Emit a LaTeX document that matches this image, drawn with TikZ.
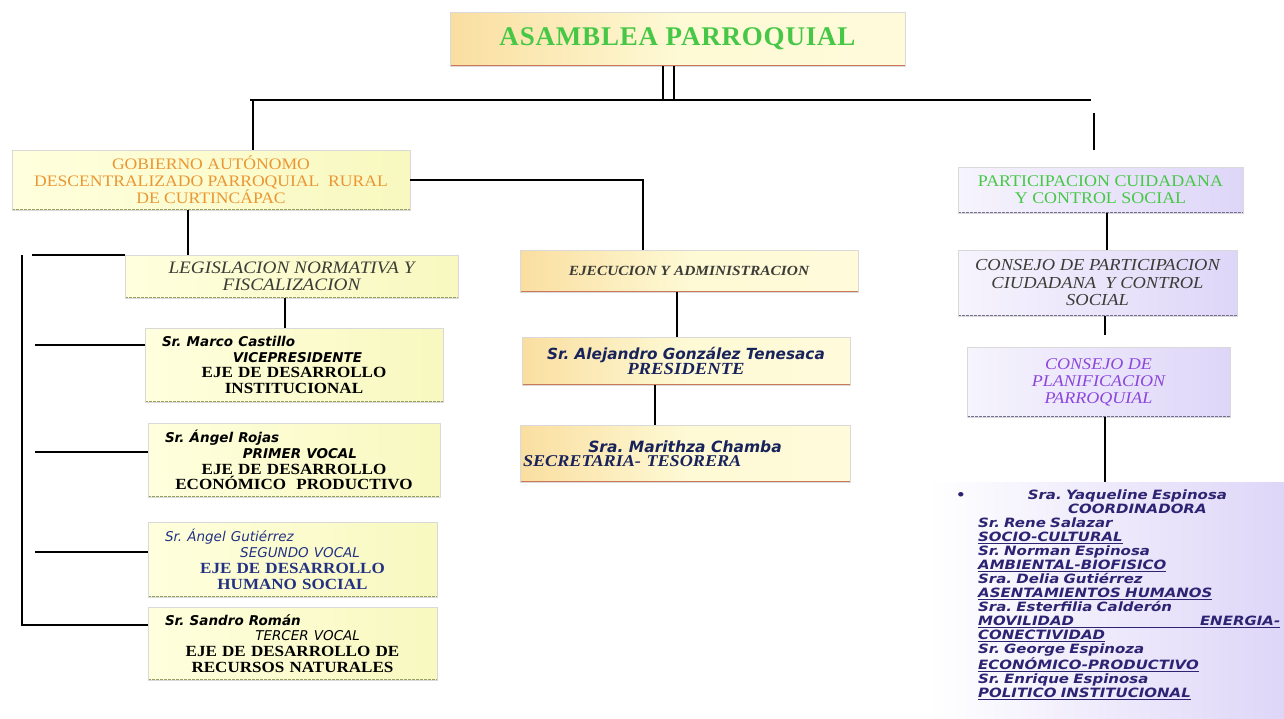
\documentclass[tikz,border=0pt]{standalone}
\usepackage{fontspec}
\setmainfont{Liberation Serif}
\newfontfamily\serw{Liberation Serif}[FakeStretch=1.1]
\newfontfamily\namef{DejaVu Sans}
\newfontfamily\listf{DejaVu Sans}[FakeStretch=1.17]
\usetikzlibrary{calc}
\definecolor{grn}{RGB}{70,200,70}
\definecolor{orng}{RGB}{235,150,50}
\definecolor{dgray}{RGB}{60,60,55}
\definecolor{purp}{RGB}{140,70,220}
\definecolor{navy}{RGB}{35,50,130}
\definecolor{lnavy}{RGB}{45,35,115}
\definecolor{ylA}{RGB}{255,255,222}
\definecolor{ylB}{RGB}{248,248,192}
\definecolor{orA}{RGB}{250,222,160}
\definecolor{orB}{RGB}{255,250,218}
\definecolor{lvA}{RGB}{246,244,253}
\definecolor{lvB}{RGB}{222,214,248}
\definecolor{edgeY}{RGB}{150,160,100}
\definecolor{edgeO}{RGB}{205,120,90}
\definecolor{edgeL}{RGB}{120,110,145}
\tikzset{
  base/.style={inner sep=0pt, outer sep=0pt, draw=gray!30, line width=0.4pt, align=center},
  ybox/.style={base, left color=ylA, right color=ylB,
    path picture={\draw[edgeY, line width=1.3pt, dash pattern=on 3pt off 1pt]
      (path picture bounding box.south west) -- (path picture bounding box.south east);}},
  obox/.style={base, left color=orA, right color=orB, middle color=orB!80!ylB,
    path picture={\draw[edgeO, line width=1.5pt]
      (path picture bounding box.south west) -- (path picture bounding box.south east);}},
  lbox/.style={base, left color=lvA, right color=lvB,
    path picture={\draw[edgeL, line width=1.3pt, dash pattern=on 3pt off 1pt]
      (path picture bounding box.south west) -- (path picture bounding box.south east);}},
  conn/.style={draw=black, line width=1.3pt},
  memb/.style={ybox, text width=#1, font=\serw\fontsize{15.5}{15.8}\selectfont},
}
\newcommand{\nmf}{\namef\bfseries\itshape\fontsize{13.5}{15.8}\selectfont}
\frenchspacing
\begin{document}
\begin{tikzpicture}[x=1pt,y=-1pt]
\useasboundingbox[fill=white] (0,0) rectangle (1284,718);

% top
\node[obox, minimum width=455pt, minimum height=54pt,
  font=\fontsize{27}{30}\selectfont\bfseries, text=grn] (asm) at (677.5,39)
  {\addfontfeatures{LetterSpace=3}ASAMBLEA PARROQUIAL};

% left column
\node[ybox, font=\serw\fontsize{16}{17}\selectfont, text=orng, minimum width=398pt, minimum height=60pt] (gad) at (211,180)
  {GOBIERNO AUTÓNOMO\\DESCENTRALIZADO PARROQUIAL~~RURAL\\DE CURTINCÁPAC};
\node[ybox, font=\serw\fontsize{17.5}{17}\selectfont\itshape, text=dgray, minimum width=333pt, minimum height=43pt] (leg) at (291.5,276.5)
  {LEGISLACION NORMATIVA Y\\FISCALIZACION};

\node[memb=278pt, minimum width=298pt, minimum height=74pt] (marco) at (294,365)
  {\makebox[\linewidth][l]{\hspace{7pt}\nmf Sr. Marco Castillo}\\
   \makebox[\linewidth][r]{\nmf VICEPRESIDENTE\hspace{71pt}}\\
   \bfseries EJE DE DESARROLLO\\ \bfseries INSTITUCIONAL};
\node[memb=272pt, minimum width=292pt, minimum height=74pt] (rojas) at (294,460)
  {\makebox[\linewidth][l]{\hspace{7pt}\nmf Sr. Ángel Rojas}\\
   \makebox[\linewidth][r]{\nmf PRIMER VOCAL\hspace{73pt}}\\
   \bfseries EJE DE DESARROLLO\\ \bfseries ECONÓMICO~ PRODUCTIVO};
\node[memb=269pt, minimum width=289pt, minimum height=75pt, text=navy] (gut) at (292.5,559.5)
  {\makebox[\linewidth][l]{\hspace{7pt}\nmf\mdseries Sr. Ángel Gutiérrez}\\
   \makebox[\linewidth][r]{\nmf\mdseries SEGUNDO VOCAL\hspace{67pt}}\\
   \bfseries EJE DE DESARROLLO\\ \bfseries HUMANO SOCIAL};
\node[memb=269pt, minimum width=289pt, minimum height=73pt] (roman) at (292.5,643.5)
  {\makebox[\linewidth][l]{\hspace{7pt}\nmf Sr. Sandro Román}\\
   \makebox[\linewidth][r]{\nmf\mdseries TERCER VOCAL\hspace{67pt}}\\
   \bfseries EJE DE DESARROLLO DE\\ \bfseries RECURSOS NATURALES};

% middle column
\node[obox, minimum width=338pt, minimum height=42pt,
  font=\serw\fontsize{14}{15}\selectfont\bfseries\itshape, text=dgray] (ejec) at (689,271)
  {EJECUCION Y ADMINISTRACION};
\node[obox, minimum width=328pt, minimum height=48pt, text=navy!70!black] (pres) at (686,361)
  {{\namef\bfseries\itshape\fontsize{15.3}{17}\selectfont Sr. Alejandro González Tenesaca}\\
   {\serw\bfseries\itshape\fontsize{17}{17}\selectfont PRESIDENTE}};
\node[obox, minimum width=330pt, minimum height=57pt, text width=324pt, text=navy!70!black,
  font=\serw\fontsize{16.5}{14.5}\selectfont] (chamba) at (685,453.5)
  {{\namef\bfseries\itshape\fontsize{15.5}{14.5}\selectfont Sra. Marithza Chamba}\\
   \makebox[\linewidth][l]{\bfseries\itshape SECRETARIA- TESORERA}\\[26pt]};

% right column
\node[lbox, font=\serw\fontsize{16.3}{17}\selectfont, text=grn, minimum width=285pt, minimum height=46pt] (part) at (1100.5,190)
  {PARTICIPACION CUIDADANA\\Y CONTROL SOCIAL};
\node[lbox, font=\serw\fontsize{16.8}{17.5}\selectfont\itshape, text=dgray, minimum width=279pt, minimum height=66pt] (cpart) at (1097.5,283)
  {CONSEJO DE PARTICIPACION\\CIUDADANA~ Y CONTROL\\SOCIAL};
\node[lbox, font=\serw\fontsize{16.4}{17}\selectfont\itshape, text=purp, minimum width=263pt, minimum height=70pt] (cplan) at (1098.5,382)
  {CONSEJO DE\\PLANIFICACION\\PARROQUIAL};
\node[base, draw=none, left color=white, right color=lvB, minimum width=356pt, minimum height=236pt] (list) at (1106,600) {};
\node[anchor=north west, inner sep=0pt, text width=302pt, align=left, text=lnavy,
  font=\listf\bfseries\itshape\fontsize{12.8}{14}\selectfont] (listtxt) at (978,490)
  {\makebox[\linewidth][l]{\hspace*{-22pt}•\hspace{62pt}Sra. Yaqueline Espinosa}\\
   \makebox[\linewidth][l]{\hspace*{90pt}COORDINADORA}\\
   Sr. Rene Salazar\\
   \underline{SOCIO-CULTURAL}\\
   Sr. Norman Espinosa\\
   \underline{AMBIENTAL-BIOFISICO}\\
   Sra. Delia Gutiérrez\\
   \underline{ASENTAMIENTOS HUMANOS}\\
   Sra. Esterfilia Calderón\\
   \underline{\makebox[\linewidth][l]{MOVILIDAD\hfill ENERGIA-}}\\
   \underline{CONECTIVIDAD}\\
   Sr. George Espinoza\\
   \underline{ECONÓMICO-PRODUCTIVO}\\
   Sr. Enrique Espinosa\\
   \underline{POLITICO INSTITUCIONAL}};

% connectors
\coordinate (b1) at (663,100);
\coordinate (b2) at (674,100);
\draw[conn] (asm.south -| b1) -- (b1);
\draw[conn] (asm.south -| b2) -- (b2);
\coordinate (busL) at (250,100);
\coordinate (busR) at (1091,100);
\draw[conn] (busL) -- (busR);
\coordinate (g1) at (253,100);
\draw[conn] (g1) -- (gad.north -| g1);
\coordinate (r1) at (1094,113);
\coordinate (r2) at (1094,150);
\draw[conn] (r1) -- (r2);
\coordinate (e1) at (643,180);
\draw[conn] (gad.east |- e1) -- (e1) -- (ejec.north -| e1);
\coordinate (l1) at (188,0);
\draw[conn] (gad.south -| l1) -- (leg.north -| l1);
\coordinate (v1) at (22,255);
\coordinate (v2) at (22,625);
\draw[conn] (v1) -- (v2) -- (roman.west |- v2);
\coordinate (h0) at (32,255);
\draw[conn] (h0) -- (leg.north west);
\coordinate (h1) at (35,345);
\draw[conn] (h1) -- (marco.west |- h1);
\coordinate (h2) at (35,452);
\draw[conn] (h2) -- (rojas.west |- h2);
\coordinate (h3) at (35,552);
\draw[conn] (h3) -- (gut.west |- h3);
\coordinate (m1) at (285,0);
\draw[conn] (leg.south -| m1) -- (marco.north -| m1);
\coordinate (p1) at (677,0);
\draw[conn] (ejec.south -| p1) -- (pres.north -| p1);
\coordinate (c1) at (655,0);
\draw[conn] (pres.south -| c1) -- (chamba.north -| c1);
\coordinate (q1) at (1107,0);
\draw[conn] (part.south -| q1) -- (cpart.north -| q1);
\coordinate (q2) at (1105,335);
\draw[conn] (cpart.south -| q2) -- (q2);
\coordinate (q3) at (1105,0);
\draw[conn] (cplan.south -| q3) -- (list.north -| q3);
\end{tikzpicture}
\end{document}
